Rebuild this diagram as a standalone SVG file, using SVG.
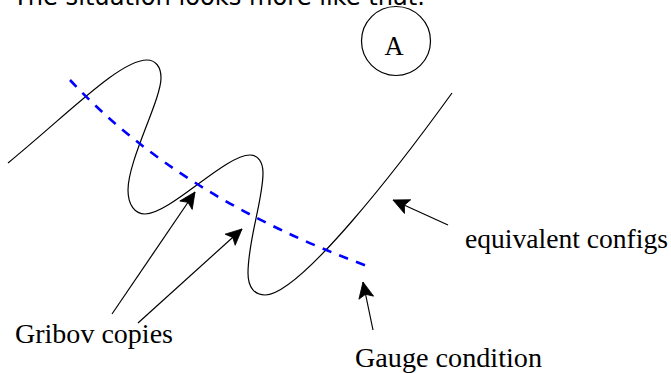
<svg xmlns="http://www.w3.org/2000/svg" width="671" height="373" viewBox="0 0 671 373">
<style>
.lbl{font-family:"Liberation Serif","Times New Roman",serif;font-size:26.5px;fill:#000}
.curve{fill:none;stroke:#000;stroke-width:1.2}
.gauge{fill:none;stroke:#0000ff;stroke-width:2.6;stroke-dasharray:9.5 8.5}
.arr{fill:none;stroke:#000;stroke-width:1.2;marker-end:url(#ah)}
</style>
<defs>
<marker id="ah" markerUnits="userSpaceOnUse" viewBox="-18 -10 19 20" refX="0" refY="0" markerWidth="19" markerHeight="20" orient="auto">
<path d="M 0 0 L -16 -7.5 L -12.5 0 L -16 7.5 Z" fill="#000" stroke="#000" stroke-width="0.8" stroke-linejoin="round"/>
</marker>
</defs>
<rect width="671" height="373" fill="#fff"/>
<text id="title" x="13" y="5" font-family="'DejaVu Sans',sans-serif" font-size="24" textLength="412" lengthAdjust="spacingAndGlyphs">The situation looks more like that.</text>
<g id="nodeA">
<circle cx="396" cy="41" r="34.5" fill="none" stroke="#000" stroke-width="1.2"/>
<text class="lbl" x="394" y="55" text-anchor="middle" font-size="28">A</text>
</g>
<g id="equivalent-configs">
<path class="curve" d="M 8 163 C 70 112 120 60 147 60 C 155 60 161 66 161 78 C 161 100 128 160 128 190 C 128 205 135 214 145 214 C 170 214 225 155 250 155 C 258 155 263 162 263 173 C 263 200 248 240 248 273 C 248 288 255 295 265 295 C 300 295 400 165 452 93"/>
</g>
<g id="gauge-condition">
<path class="gauge" d="M 70 80 Q 180 198 370 267"/>
</g>
<g id="connectors">
<line class="arr" x1="112" y1="314" x2="195" y2="192"/>
<line class="arr" x1="138" y1="323" x2="242" y2="229"/>
<line class="arr" x1="373" y1="330" x2="363" y2="282"/>
<line class="arr" x1="448" y1="225" x2="393" y2="200"/>
</g>
<g id="labels">
<text class="lbl" x="15" y="343" textLength="158" lengthAdjust="spacingAndGlyphs">Gribov copies</text>
<text class="lbl" x="465" y="248" textLength="203" lengthAdjust="spacingAndGlyphs">equivalent configs</text>
<text class="lbl" x="355" y="367" textLength="187" lengthAdjust="spacingAndGlyphs">Gauge condition</text>
</g>
</svg>
